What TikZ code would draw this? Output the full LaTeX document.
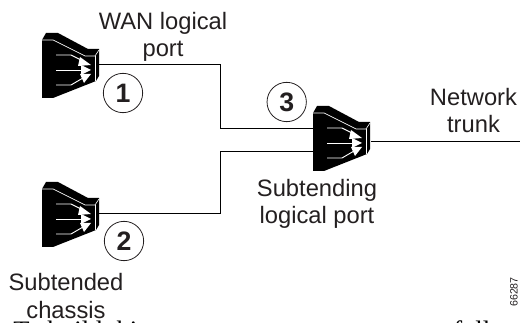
\documentclass[tikz,border=0pt]{standalone}
\usepackage{fontspec}
\setmainfont{Liberation Sans}
\newfontfamily\serifcut{Liberation Serif}
\definecolor{ink}{HTML}{231F20}
\tikzset{
  lbl/.style={text=ink,font=\fontsize{17.8}{20.6}\selectfont,align=center,inner sep=0pt},
  num/.style={circle,draw=ink,line width=0.6pt,minimum size=29.5pt,inner sep=0pt,text=ink,font=\fontsize{20}{22}\selectfont\bfseries},
  wire/.style={draw=black,line width=0.6pt},
  port/.style={inner sep=0pt,minimum size=0pt},
  cuttext/.style={inner sep=0pt,anchor=base west,text=black,font=\serifcut\fontsize{20}{22}\selectfont}
}
\newcommand{\router}[2]{%
 \begin{scope}[shift={(#1,#2)},yscale=-1]
  \fill[black] (0,7) -- (4,0) -- (16,0) -- (46,16) -- (57,16) -- (57,43) -- (54,48) -- (11,65) -- (0,65) -- cycle;
  \draw[white,line width=0.5pt] (-2,7) -- (11,7) -- (43,23) -- (53,23) -- (57,17);
  \draw[white,line width=0.5pt] (53,23) -- (53,48);
  \draw[white,line width=0.7pt] (14,22) -- (29,22) -- (41,28);
  \draw[white,line width=0.7pt] (14,37) -- (39,37);
  \draw[white,line width=0.7pt] (14,52) -- (29,52) -- (41,45);
  \fill[white] (49,32) -- (38,24) -- (36,33) -- cycle;
  \fill[white] (49,37) -- (39,32) -- (39,42) -- cycle;
  \fill[white] (49,41) -- (38,41) -- (42,50) -- cycle;
 \end{scope}}
\begin{document}
\begin{tikzpicture}[x=0.75pt,y=-0.75pt]
\useasboundingbox (0,0) rectangle (520,323);
\begin{scope}
\clip (0,0) rectangle (520,323);
\node[port] (a) at (99,64) {};
\node[port] (b) at (99,213) {};
\node[port] (c1) at (313,128) {};
\node[port] (c2) at (313,151) {};
\node[port] (d) at (371,141) {};
\coordinate (e) at (520,141);
\draw[wire] (a.center) -| (220,128) -- (c1.center);
\draw[wire] (b.center) -| (220,151) -- (c2.center);
\draw[wire] (d.center) -- (e);
\begin{scope}[y=0.75pt]
\router{42}{-33}
\router{42}{-182}
\router{313}{-106}
\end{scope}
\node[num] (n1) at (123,93) {1};
\node[num] (n2) at (124,241) {2};
\node[num] (n3) at (286.7,102) {3};
\node[lbl] (t1) at (163,37) {WAN logical\\port};
\node[lbl] (t2) at (473.5,110.5) {Network\\trunk};
\node[lbl] (t3) at (317,204) {Subtending\\logical port};
\node[lbl] (t4) at (66,296) {Subtended\\chassis};
\node[inner sep=0pt,text=ink,rotate=90,font=\fontsize{8}{9}\selectfont] (t5) at (514,292) {66287};
\node[cuttext] (t6) at (13,339.5) {To build this};
\node[cuttext] (t7) at (453,339.5) {following};
\end{scope}
\end{tikzpicture}
\end{document}
